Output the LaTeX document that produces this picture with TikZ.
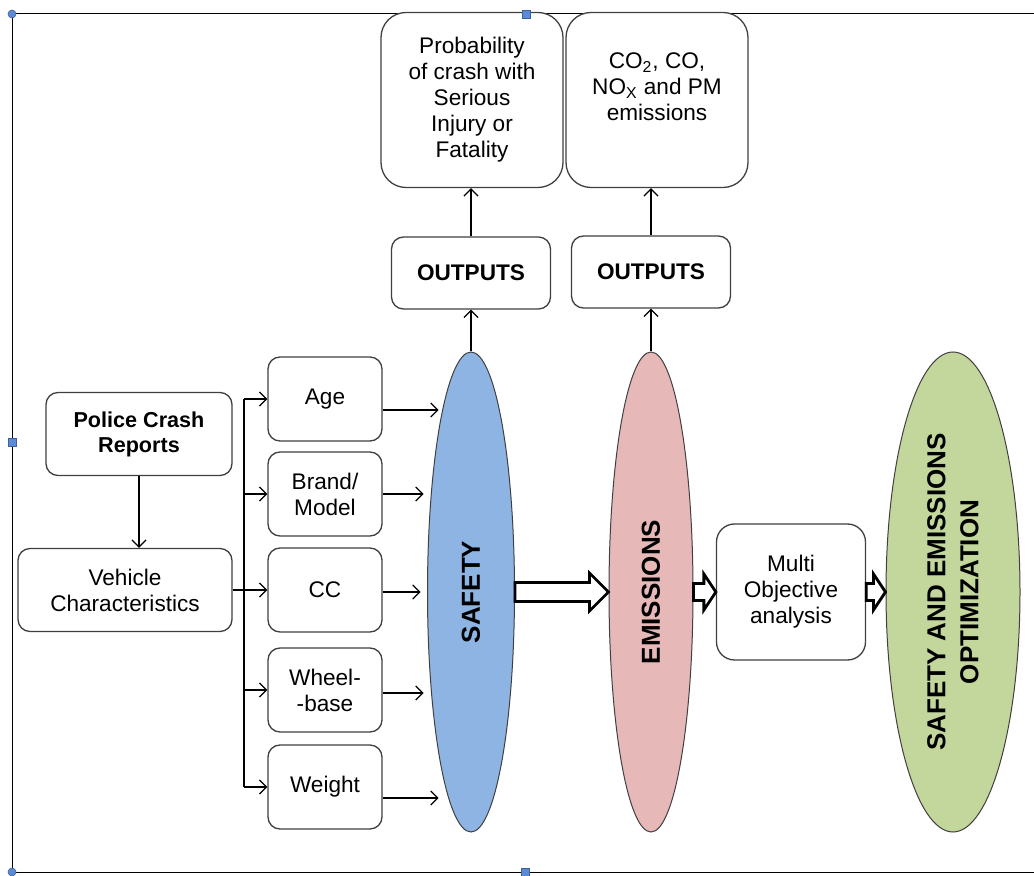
\documentclass[tikz,border=0pt]{standalone}
\usepackage{fontspec}
\setmainfont{Liberation Sans}
\usetikzlibrary{shapes.geometric,arrows.meta,calc}
\definecolor{safetyblue}{HTML}{8DB4E2}
\definecolor{emisspink}{HTML}{E6B9B8}
\definecolor{optgreen}{HTML}{C3D69B}
\definecolor{handleblue}{HTML}{5B8BD6}
\newcommand\fatarrow[5]{%
  \path[fat] let \p1=(#1), \p2=(#2) in
    (\x1,\y1+#3) -- (\x2-#5,\y1+#3) -- (\x2-#5,\y1+#4) -- (\x2,\y1)
    -- (\x2-#5,\y1-#4) -- (\x2-#5,\y1-#3) -- (\x1,\y1-#3) -- cycle;}

\begin{document}
\begin{tikzpicture}[x=0.5pt,y=-0.5pt]
  \tikzset{
    box/.style={draw=black!75, line width=0.65pt, rounded corners=6pt, fill=white,
      align=center, inner sep=0pt, font=\fontsize{11.3}{13}\selectfont},
    attr/.style={box, minimum width=57pt, minimum height=42pt},
    topbox/.style={box, rounded corners=12.5pt, minimum width=91pt, minimum height=87.5pt},
    outbox/.style={box, minimum width=79.5pt, minimum height=36pt,
      font=\bfseries\fontsize{11.3}{13}\selectfont},
    blob/.style={ellipse, draw=black!75, line width=0.5pt, inner sep=0pt,
      minimum width=43.5pt, minimum height=240pt},
    vtext/.style={rotate=90, align=center, font=\bfseries\fontsize{13}{16.5}\selectfont},
    arr/.style={line width=0.65pt, -{Straight Barb[length=3.5pt,width=7pt]}},
    fat/.style={draw, fill=white, line width=1.4pt, line join=miter},
    frame/.style={line width=0.5pt},
    handle/.style={fill=handleblue, draw=handleblue!70!black, line width=0.3pt}
  }
  \useasboundingbox (0,0) rectangle (1034,876);
  \draw[frame] (1040,14) -- (12,14) -- (12,872) -- (1040,872);

  \node[box, minimum width=93pt, minimum height=41.5pt,
    font=\bfseries\fontsize{10.8}{12.5}\selectfont] (police) at (139,434) {Police Crash\\Reports};
  \node[box, minimum width=107pt, minimum height=41.5pt] (vehicle) at (125,590) {Vehicle\\Characteristics};
  \node[attr] (age) at (325,399) {Age};
  \node[attr] (brand) at (325,494) {Brand/\\Model};
  \node[attr] (cc) at (325,590) {CC};
  \node[attr] (wheel) at (325,690) {Wheel-\\-base};
  \node[attr] (weight) at (325,787) {Weight};

  \node[blob, fill=safetyblue] (safety) at (471,592) {};
  \node[vtext] at (safety) {SAFETY};
  \node[blob, fill=emisspink, minimum width=42pt] (emissions) at (651,592) {};
  \node[vtext] at (emissions) {EMISSIONS};
  \node[box, rounded corners=9pt, minimum width=74.5pt, minimum height=68pt] (multi) at (791,592) {Multi\\Objective\\analysis};
  \node[blob, fill=optgreen, minimum width=67pt] (opt) at (953,592) {};
  \node[vtext] at (opt) {SAFETY AND EMISSIONS\\OPTIMIZATION};

  \node[outbox] (out1) at (471,273) {OUTPUTS};
  \node[outbox] (out2) at (651,272) {OUTPUTS};
  \node[topbox] (prob) at (472,100) {Probability\\of crash with\\Serious\\Injury or\\Fatality};
  \node[topbox] (gases) at (657,100) {CO\textsubscript{2}, CO,\\NO\textsubscript{X} and PM\\emissions\\\mbox{}};

  \draw[arr] (police.south) -- (police.south |- vehicle.north);
  \draw[arr] (vehicle) -- (cc);
  \coordinate (trunk) at (244,0);
  \draw[line width=0.65pt] (age.west -| trunk) -- (weight.west -| trunk);
  \foreach \n in {age,brand,wheel,weight}
    \draw[arr] (\n.west -| trunk) -- (\n.west);
  \foreach \n/\d/\l in {age/-5.5pt/56,brand/0pt/41,cc/-1pt/38,wheel/-1.5pt/41,weight/-5.5pt/56}
    \draw[arr] ([yshift=\d]\n.east) -- ++(\l,0);

  \draw[arr] (safety.north) -- (out1.south);
  \draw[arr] (out1.north) -- (out1.north |- prob.south);
  \draw[arr] (emissions.north) -- (out2.south);
  \draw[arr] (out2.north) -- (out2.north |- gases.south);

  \fatarrow{safety.east}{emissions.west}{4.75pt}{9.5pt}{9.5pt}
  \fatarrow{emissions.east}{multi.west}{4.25pt}{9pt}{6pt}
  \fatarrow{multi.east}{opt.west}{4.25pt}{9pt}{6pt}

  \filldraw[handle] (12,14) circle (4);
  \filldraw[handle] (12,872) circle (4);
  \filldraw[handle] (522,10) rectangle (530,18);
  \filldraw[handle] (521,868) rectangle (529,876);
  \filldraw[handle] (8,438) rectangle (16,446);
\end{tikzpicture}
\end{document}
